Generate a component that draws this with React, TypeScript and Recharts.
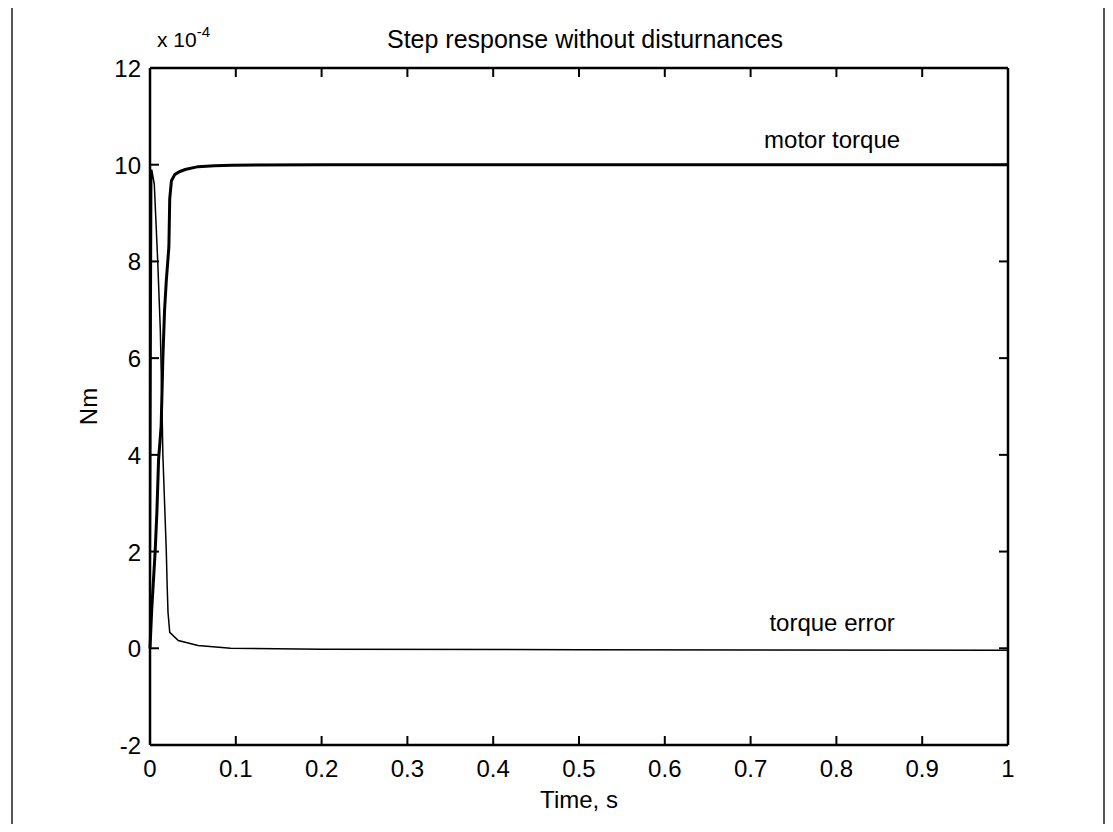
import { LineChart, Line, XAxis, YAxis, ReferenceLine, ReferenceDot } from "recharts";

// time axis (s) and torque axis (x 10^-4 Nm)
const timeTicks = [0, 0.1, 0.2, 0.3, 0.4, 0.5, 0.6, 0.7, 0.8, 0.9, 1];
const nmTicks = [-2, 0, 2, 4, 6, 8, 10, 12];

// motor torque
const torqueTime = [
  0, 0.002, 0.006, 0.008, 0.01, 0.013, 0.015, 0.017, 0.019, 0.022, 0.023,
  0.025, 0.029, 0.035, 0.041, 0.056, 0.075, 0.096, 0.2, 0.4, 0.6, 0.8, 1,
];
const torqueValue = [
  0, 0.8, 2.0, 2.8, 3.9, 4.6, 6.0, 7.0, 7.6, 8.3, 9.3,
  9.67, 9.8, 9.86, 9.9, 9.96, 9.98, 9.99, 10, 10, 10, 10, 10,
];

// torque error
const errorTime = [
  0, 0.002, 0.005, 0.007, 0.009, 0.012, 0.014, 0.015, 0.019, 0.02, 0.021,
  0.023, 0.033, 0.056, 0.094, 0.2, 0.5, 1,
];
const errorValue = [
  0, 9.9, 9.6, 8.8, 8.0, 6.6, 5.0, 4.0, 2.0, 1.3, 0.74,
  0.33, 0.16, 0.06, 0.0, -0.02, -0.03, -0.04,
];

const torqueData = torqueTime.map((t, i) => ({ t, v: torqueValue[i] }));
const errorData = errorTime.map((t, i) => ({ t, v: errorValue[i] }));

const FONT = "'Liberation Sans', Arial, sans-serif";
const W = 1097;
const H = 816;
const PLOT_LEFT = 142;
const PLOT_RIGHT = 1000;
const PLOT_TOP = 60;
const PLOT_BOTTOM = 737;
const TICK = 9;

const fmt = (v: number) => String(Number(v.toFixed(1)));

const BottomTick = (props: any) => {
  const { x, payload } = props;
  return (
    <g>
      <line x1={x} x2={x} y1={PLOT_BOTTOM} y2={PLOT_BOTTOM - TICK} stroke="#000" strokeWidth={2} />
      <line x1={x} x2={x} y1={PLOT_TOP} y2={PLOT_TOP + TICK} stroke="#000" strokeWidth={2} />
      <text x={x} y={PLOT_BOTTOM + 32} textAnchor="middle" fontSize={24} fontFamily={FONT} fill="#000">
        {fmt(payload.value)}
      </text>
    </g>
  );
};

const LeftTick = (props: any) => {
  const { y, payload } = props;
  return (
    <g>
      <line x1={PLOT_LEFT} x2={PLOT_LEFT + TICK} y1={y} y2={y} stroke="#000" strokeWidth={2} />
      <line x1={PLOT_RIGHT} x2={PLOT_RIGHT - TICK} y1={y} y2={y} stroke="#000" strokeWidth={2} />
      <text x={PLOT_LEFT - 9} y={y + 9} textAnchor="end" fontSize={24} fontFamily={FONT} fill="#000">
        {payload.value}
      </text>
    </g>
  );
};

export default function App() {
  return (
    <div style={{ position: "relative", width: W, height: H, fontFamily: FONT }}>
      <div
        style={{
          position: "absolute",
          left: 3,
          top: -3,
          width: 1094,
          height: H + 3,
          borderLeft: "2px solid #555",
          borderTop: "2px solid #555",
          borderRight: "2px solid #555",
          boxSizing: "border-box",
          zIndex: 1,
          pointerEvents: "none",
        }}
      />
      <div
        style={{
          position: "absolute",
          left: 577,
          top: 19,
          transform: "translateX(-50%)",
          fontSize: 25,
          lineHeight: 1,
          whiteSpace: "nowrap",
        }}
      >
        Step response without disturnances
      </div>
      <div
        style={{
          position: "absolute",
          left: 149,
          top: 21,
          fontSize: 21,
          lineHeight: 1,
          whiteSpace: "nowrap",
        }}
      >
        x 10
        <span style={{ fontSize: 15, position: "relative", top: -10 }}>-4</span>
      </div>
      <LineChart
        width={W}
        height={H}
        margin={{ top: PLOT_TOP, right: W - PLOT_RIGHT, bottom: H - PLOT_BOTTOM - 50, left: PLOT_LEFT - 60 }}
      >
        <XAxis
          type="number"
          dataKey="t"
          domain={[0, 1]}
          ticks={timeTicks}
          interval={0}
          height={50}
          tickLine={false}
          axisLine={{ stroke: "#000", strokeWidth: 2.5 }}
          tick={<BottomTick />}
          label={{ value: "Time, s", position: "bottom", offset: -4, fill: "#000", fontSize: 24, fontFamily: FONT }}
        />
        <YAxis
          type="number"
          domain={[-2, 12]}
          ticks={nmTicks}
          interval={0}
          width={60}
          tickLine={false}
          axisLine={{ stroke: "#000", strokeWidth: 2.5 }}
          tick={<LeftTick />}
          label={{
            value: "Nm",
            angle: -90,
            position: "insideLeft",
            offset: -2,
            fill: "#000",
            fontSize: 24,
            fontFamily: FONT,
            style: { textAnchor: "middle" },
          }}
        />
        <ReferenceLine y={12} stroke="#000" strokeWidth={2.5} />
        <ReferenceLine x={1} stroke="#000" strokeWidth={2.5} />
        <Line
          data={torqueData}
          dataKey="v"
          type="linear"
          stroke="#000"
          strokeWidth={3}
          dot={false}
          isAnimationActive={false}
        />
        <Line
          data={errorData}
          dataKey="v"
          type="linear"
          stroke="#000"
          strokeWidth={1.5}
          dot={false}
          isAnimationActive={false}
        />
        <ReferenceDot
          x={0.795}
          y={10}
          r={0}
          fill="none"
          stroke="none"
          label={{ value: "motor torque", position: "top", offset: 17, fill: "#000", fontSize: 24, fontFamily: FONT }}
        />
        <ReferenceDot
          x={0.795}
          y={0}
          r={0}
          fill="none"
          stroke="none"
          label={{ value: "torque error", position: "top", offset: 17, fill: "#000", fontSize: 24, fontFamily: FONT }}
        />
      </LineChart>
    </div>
  );
}
